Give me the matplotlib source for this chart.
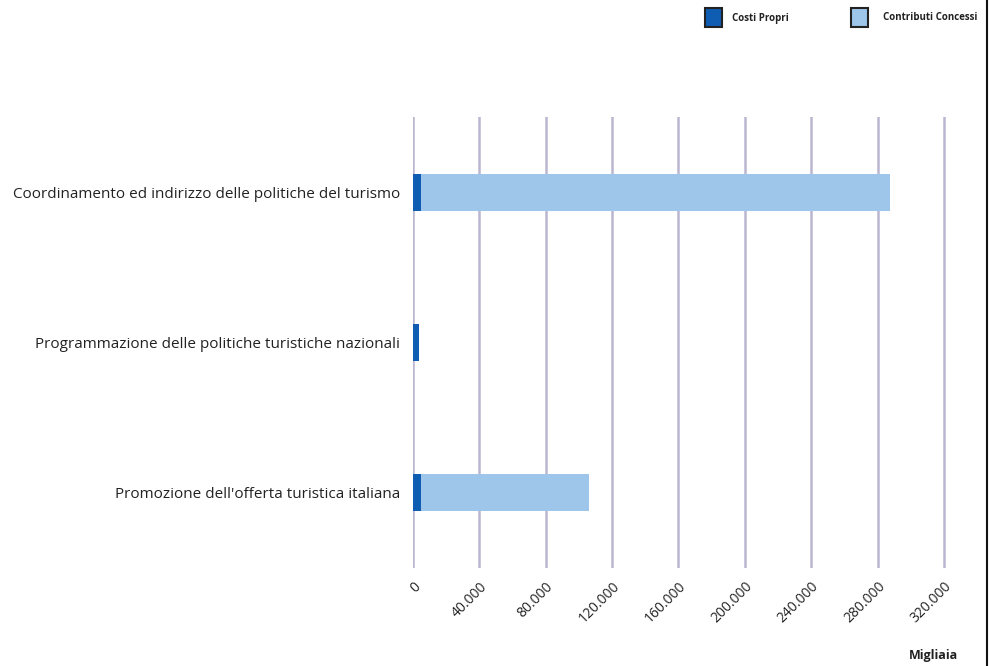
import matplotlib
matplotlib.use("Agg")
import matplotlib.pyplot as plt
from matplotlib.lines import Line2D
from matplotlib.patches import Rectangle

plt.rcParams['font.family'] = ['Open Sans', 'DejaVu Sans']

categories = [
    "Coordinamento ed indirizzo delle politiche del turismo",
    "Programmazione delle politiche turistiche nazionali",
    "Promozione dell'offerta turistica italiana",
]
costi_propri = [4800, 3600, 4800]
contributi_concessi = [282700, 0, 101300]
ticks = [0, 40000, 80000, 120000, 160000, 200000, 240000, 280000, 320000]
tick_labels = ["0", "40.000", "80.000", "120.000", "160.000", "200.000",
               "240.000", "280.000", "320.000"]

dark = "#0f5db3"
light = "#9dc6ea"
grid_col = "#bab6d0"

xmax = 326000
px_w = 531 * xmax / 320000

fig = plt.figure(figsize=(9.91, 6.66), dpi=100)
ax = fig.add_axes([413 / 991, 1 - 568 / 666, px_w / 991, 451 / 666])

y = list(range(len(categories)))
ax.barh(y, costi_propri, height=0.247, color=dark, zorder=3)
ax.barh(y, contributi_concessi, left=costi_propri, height=0.247,
        color=light, zorder=3)

ax.set_xlim(0, xmax)
ax.set_ylim(len(categories) - 0.5, -0.5)
ax.set_yticks(y)
ax.set_yticklabels(categories, fontsize=11, color="#222222")
ax.set_xticks(ticks)
ax.set_xticklabels(tick_labels, rotation=45, ha="right", va="top",
                   rotation_mode="anchor", fontsize=10, color="#222222")
ax.tick_params(axis="y", length=0, pad=9.5)
ax.tick_params(axis="x", length=0, pad=8)
ax.grid(axis="x", color=grid_col, linewidth=1.8, zorder=0)
for s in ax.spines.values():
    s.set_visible(False)

# legend
fig.patches.append(Rectangle((705 / 991, 1 - 27 / 666), 17 / 991, 19 / 666,
                             transform=fig.transFigure, facecolor=dark,
                             edgecolor="#222222", linewidth=1.5))
fig.text(732 / 991, 1 - 18 / 666, "Costi Propri", fontsize=7,
         fontweight="bold", va="center", color="#222222")
fig.patches.append(Rectangle((851 / 991, 1 - 27 / 666), 17 / 991, 19 / 666,
                             transform=fig.transFigure, facecolor=light,
                             edgecolor="#222222", linewidth=1.5))
fig.text(883 / 991, 1 - 18 / 666, "Contributi Concessi", fontsize=7,
         fontweight="bold", va="center", color="#222222")

fig.text(933 / 991, 1 - 655 / 666, "Migliaia", fontsize=9,
         fontweight="bold", ha="center", va="center", color="#222222")

# page border on the right
fig.lines.append(Line2D([987 / 991, 987 / 991], [0, 1],
                        transform=fig.transFigure, color="#111111",
                        linewidth=1.5))

fig.savefig("out.png", dpi=100, facecolor="white")
